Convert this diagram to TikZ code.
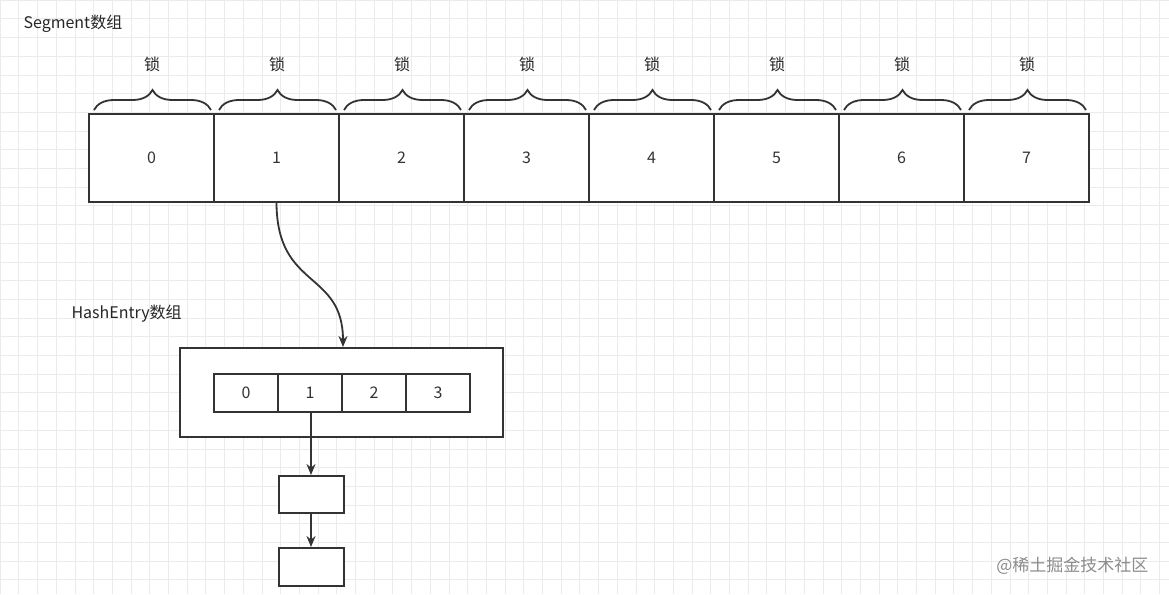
\documentclass[tikz,border=0pt]{standalone}
\usepackage{fontspec}
\setmainfont{Noto Sans CJK SC}
\usetikzlibrary{decorations.pathreplacing,arrows.meta}
\begin{document}
\begin{tikzpicture}[x=1pt,y=-1pt,
  box/.style={draw=black!80,line width=2pt,fill=white,inner sep=0pt,font=\fontsize{16}{18}\selectfont,text=black!80},
  lab/.style={font=\fontsize{16}{18}\selectfont,text=black!85},
  con/.style={draw=black!80,line width=1.8pt,-{Stealth[length=11pt,width=9pt]}},
  br/.style={draw=black!80,line width=1.8pt,decorate,decoration={brace,amplitude=20pt}}]
\useasboundingbox (0,0) rectangle (1169,594);
\fill[white] (0,0) rectangle (1169,594);
\foreach \k in {0,...,63}{\draw[black!8,line width=0.6pt] (\k*18.7,0) -- (\k*18.7,594);}
\foreach \k in {0,...,32}{\draw[black!8,line width=0.6pt] (0,\k*18.7) -- (1169,\k*18.7);}
\node[lab,anchor=west] (seg) at (20,24) {Segment数组};
\foreach \i in {0,...,7}{
  \node[box,minimum width=125pt,minimum height=88pt] (s\i) at (151.5+125*\i,158) {\i};
  \draw[br] (94+125*\i,110) -- (211+125*\i,110);
  \node[lab] (l\i) at (152+125*\i,64) {锁};
}
\node[lab,anchor=west] (he) at (68,314) {HashEntry数组};
\node[box,minimum width=323pt,minimum height=89pt] (outer) at (341.5,392.5) {};
\foreach \i in {0,...,3}{
  \node[box,minimum width=64pt,minimum height=38pt] (h\i) at (246+64*\i,393) {\i};
}
\node[box,minimum width=65pt,minimum height=37pt] (n1) at (311,494.5) {};
\node[box,minimum width=65pt,minimum height=38pt] (n2) at (311,567) {};
\draw[con] (s1.south) .. controls (277,290) and (343,270) .. (outer.north -| 343,0);
\draw[con] (h1.south -| n1.north) -- (n1.north);
\draw[con] (n1.south) -- (n2.north);
\node[font=\fontsize{17}{19}\selectfont,text=black!45,anchor=east] (wm) at (1152,566) {@稀土掘金技术社区};
\end{tikzpicture}
\end{document}
